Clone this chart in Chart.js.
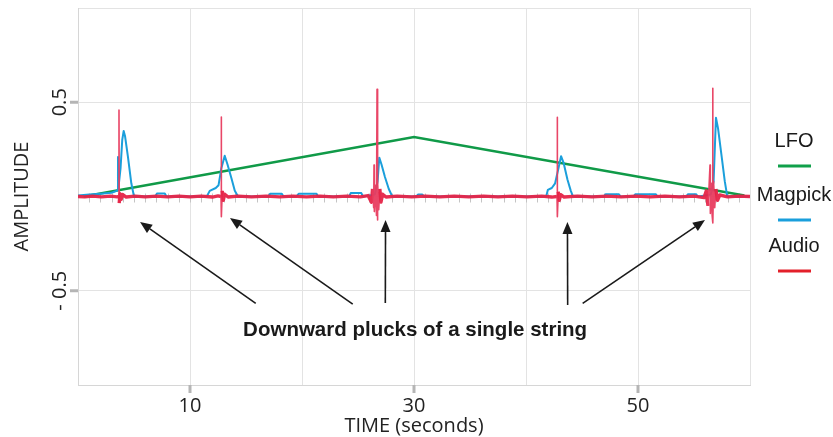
<!DOCTYPE html>
<html>
<head>
<meta charset="utf-8">
<script src="https://cdn.jsdelivr.net/npm/chart.js@4"></script>
<style>
  html, body { margin: 0; padding: 0; background: #fff; }
  #wrap { width: 833px; height: 437px; position: relative; }
</style>
</head>
<body>
<div id="wrap"><canvas id="chart"></canvas></div>
<script>
// Axis ticks
const xTickLabels = [10, 30, 50];
const yTickLabels = [0.5, -0.5];
const yTickText = ['0.5', '- 0.5'];

// LFO (slow triangle)
const lfoTime = [0.5, 30, 59.5];
const lfoAmp = [0.0, 0.316, 0.005];

// Magpick signal
const magTime = [
  0, 1.0, 2.0, 3.0, 3.45, 3.55, 3.57, 3.6, 3.8, 3.95, 4.08, 4.2, 4.46, 4.76, 5.0,
  6.9, 7.05, 7.75, 7.9,
  11.5, 11.76, 12.3, 12.55, 12.8, 13.1, 13.35, 13.7, 14.0, 14.29,
  17.0, 17.15, 18.2, 18.35, 19.5, 19.7, 21.3, 21.45, 24.2, 24.35, 25.3, 25.45,
  26.5, 26.75, 26.9, 27.1, 27.4, 27.75, 28.06,
  30.2, 30.35, 30.75, 30.9,
  41.8, 41.95, 42.3, 42.6, 42.9, 43.13, 43.35, 43.7, 44.0, 44.2,
  46.95, 47.1, 48.3, 48.45, 49.6, 49.75, 51.6, 51.75, 54.3, 54.45, 55.2, 55.35,
  56.5, 56.75, 56.96, 57.15, 57.47, 57.75, 57.97, 60
];
const magAmp = [
  0.005, 0.01, 0.015, 0.02, 0.03, 0.035, 0.21, 0.04, 0.15, 0.3, 0.348, 0.32, 0.21, 0.07, 0.0,
  0.0, 0.016, 0.016, 0.0,
  0.0, 0.03, 0.045, 0.06, 0.15, 0.216, 0.17, 0.097, 0.03, 0.0,
  0.0, 0.014, 0.014, 0.0, 0.0, 0.014, 0.014, 0.0, 0.0, 0.018, 0.018, 0.0,
  0.01, 0.08, 0.206, 0.17, 0.105, 0.04, 0.0,
  0.0, 0.01, 0.01, 0.0,
  0.0, 0.035, 0.045, 0.07, 0.15, 0.214, 0.18, 0.09, 0.03, 0.0,
  0.0, 0.012, 0.012, 0.0, 0.0, 0.012, 0.012, 0.0, 0.0, 0.012, 0.012, 0.0,
  0.01, 0.08, 0.418, 0.36, 0.211, 0.08, 0.0, 0.0
];

// Audio signal
const audioTime = [
  0, 0.6, 1.3, 2.1, 2.9, 3.5, 3.64, 3.66, 3.68, 3.75, 3.85, 4.0, 4.3,
  5.1, 6.0, 7.0, 8.0, 9.0, 10.0, 11.0, 12.0, 12.5,
  12.77, 12.79, 12.81, 12.88, 12.97, 13.1, 13.4,
  14.3, 15.5, 16.8, 18.0, 19.2, 20.4, 21.6, 22.8, 24.0, 25.2, 25.9,
  26.2, 26.3, 26.4, 26.43, 26.46, 26.55, 26.65, 26.7, 26.72, 26.78, 26.85, 26.95, 27.05, 27.2, 27.5,
  28.5, 29.8, 31.0, 32.3, 33.6, 34.9, 36.2, 37.5, 38.8, 40.1, 41.4, 42.3,
  42.77, 42.79, 42.81, 42.88, 42.97, 43.1, 43.4,
  44.6, 45.9, 47.2, 48.5, 49.8, 51.1, 52.4, 53.7, 55.0, 55.9,
  56.1, 56.25, 56.35, 56.43, 56.46, 56.55, 56.62, 56.67, 56.69, 56.75, 56.85, 56.95, 57.1, 57.3,
  58.0, 59.0, 60
];
const audioAmp = [
  0, -0.002, 0.002, -0.002, 0.002, -0.002, 0.0, 0.458, -0.035, 0.015, -0.015, 0.01, -0.003,
  0.002, -0.002, 0.002, -0.002, 0.002, -0.002, 0.002, -0.003, 0.003,
  0.0, 0.422, -0.107, 0.03, -0.02, 0.012, -0.003,
  0.002, -0.002, 0.002, -0.002, 0.002, -0.002, 0.002, -0.002, 0.002, -0.002, 0.005,
  -0.03, 0.04, -0.06, 0.167, -0.08, 0.06, -0.1, 0.569, -0.125, 0.08, -0.07, 0.04, -0.03, 0.012, -0.003,
  0.002, -0.002, 0.002, -0.002, 0.002, -0.002, 0.002, -0.002, 0.002, -0.002, 0.002, -0.003,
  0.0, 0.42, -0.107, 0.025, -0.02, 0.01, -0.003,
  0.002, -0.002, 0.002, -0.002, 0.002, -0.002, 0.002, -0.002, 0.002, -0.006,
  0.03, -0.05, 0.06, 0.167, -0.09, 0.07, -0.1, 0.574, -0.14, 0.08, -0.06, 0.04, -0.02, 0.008,
  -0.002, 0.002, 0
];

// Annotation: arrow tails/heads in data units
const arrowTail = [[15.87, -0.567], [24.53, -0.571], [27.44, -0.565], [43.72, -0.576], [45.06, -0.567]];
const arrowHead = [[5.54, -0.135], [13.57, -0.114], [27.46, -0.125], [43.7, -0.135], [55.98, -0.125]];
const noteText = 'Downward plucks of a single string';
const notePos = [30.1, -0.709];

const zip = (xs, ys) => xs.map((v, i) => ({ x: v, y: ys[i] }));

const AXIS_FONT = "'Open Sans', 'DejaVu Sans', sans-serif";
const LEG_FONT = "'Liberation Sans', Arial, sans-serif";

// thinner, lighter stroke for the tall spike segments
const isSpike = ctx => Math.abs(ctx.p0.parsed.y) > 0.05 || Math.abs(ctx.p1.parsed.y) > 0.05;

const decor = {
  id: 'decor',
  beforeDatasetsDraw(chart) {
    const { ctx, scales: { x, y } } = chart;
    // small ticks along the zero line
    const y0 = y.getPixelForValue(0);
    ctx.save();
    ctx.strokeStyle = '#c4c4c4';
    ctx.lineWidth = 1;
    for (let t = 1; t < 60; t++) {
      const px = Math.round(x.getPixelForValue(t)) + 0.5;
      ctx.beginPath();
      ctx.moveTo(px, y0 - 3);
      ctx.lineTo(px, y0 + 6);
      ctx.stroke();
    }
    ctx.restore();
  },
  afterDatasetsDraw(chart) {
    const { ctx, chartArea: ca, scales: { x, y } } = chart;
    ctx.save();

    // tick marks
    ctx.strokeStyle = '#b5b5b5';
    ctx.lineWidth = 3;
    xTickLabels.forEach(v => {
      const px = x.getPixelForValue(v);
      ctx.beginPath(); ctx.moveTo(px, ca.bottom); ctx.lineTo(px, ca.bottom + 8); ctx.stroke();
    });
    yTickLabels.forEach(v => {
      const py = y.getPixelForValue(v);
      ctx.beginPath(); ctx.moveTo(ca.left - 8, py); ctx.lineTo(ca.left, py); ctx.stroke();
    });

    // tick labels
    ctx.fillStyle = '#222';
    ctx.font = '20px ' + AXIS_FONT;
    ctx.textAlign = 'center';
    ctx.textBaseline = 'alphabetic';
    xTickLabels.forEach(v => ctx.fillText(String(v), x.getPixelForValue(v), ca.bottom + 27));
    yTickLabels.forEach((v, i) => {
      ctx.save();
      ctx.translate(ca.left - 12, y.getPixelForValue(v));
      ctx.rotate(-Math.PI / 2);
      ctx.fillText(yTickText[i], 0, 0);
      ctx.restore();
    });

    // axis titles
    ctx.fillText('TIME (seconds)', (ca.left + ca.right) / 2, ca.bottom + 47);
    ctx.save();
    ctx.translate(28, (ca.top + ca.bottom) / 2);
    ctx.rotate(-Math.PI / 2);
    ctx.fillText('AMPLITUDE', 0, 0);
    ctx.restore();

    // arrows
    ctx.strokeStyle = '#1a1a1a';
    ctx.fillStyle = '#1a1a1a';
    ctx.lineWidth = 1.6;
    arrowTail.forEach((tail, i) => {
      const x1 = x.getPixelForValue(tail[0]), y1 = y.getPixelForValue(tail[1]);
      const x2 = x.getPixelForValue(arrowHead[i][0]), y2 = y.getPixelForValue(arrowHead[i][1]);
      const ang = Math.atan2(y2 - y1, x2 - x1);
      const len = 12, half = 5;
      const bx = x2 - len * Math.cos(ang), by = y2 - len * Math.sin(ang);
      ctx.beginPath(); ctx.moveTo(x1, y1); ctx.lineTo(bx, by); ctx.stroke();
      ctx.beginPath();
      ctx.moveTo(x2, y2);
      ctx.lineTo(bx + half * Math.sin(ang), by - half * Math.cos(ang));
      ctx.lineTo(bx - half * Math.sin(ang), by + half * Math.cos(ang));
      ctx.closePath();
      ctx.fill();
    });

    // annotation
    ctx.fillStyle = '#1a1a1a';
    ctx.font = 'bold 20.5px ' + LEG_FONT;
    ctx.textBaseline = 'middle';
    ctx.fillText(noteText, x.getPixelForValue(notePos[0]), y.getPixelForValue(notePos[1]));

    // legend on the right
    const lx = ca.right + 44;
    ctx.font = '20px ' + LEG_FONT;
    ctx.textBaseline = 'alphabetic';
    chart.data.datasets.forEach((ds, i) => {
      const ty = [147, 201, 252][i];
      ctx.fillStyle = '#1a1a1a';
      ctx.fillText(ds.label, lx, ty);
      ctx.strokeStyle = ds.legendColor;
      ctx.lineWidth = 3;
      ctx.beginPath();
      ctx.moveTo(lx - 16, ty + 19);
      ctx.lineTo(lx + 17, ty + 19);
      ctx.stroke();
    });

    ctx.restore();
  }
};

new Chart(document.getElementById('chart'), {
  type: 'line',
  data: {
    datasets: [
      {
        label: 'LFO',
        data: zip(lfoTime, lfoAmp),
        borderColor: '#109a48',
        legendColor: '#10a04a',
        borderWidth: 2.5,
        pointRadius: 0,
        order: 3
      },
      {
        label: 'Magpick',
        data: zip(magTime, magAmp),
        borderColor: '#1b9fdb',
        legendColor: '#1a9fdc',
        borderWidth: 2,
        pointRadius: 0,
        borderJoinStyle: 'round',
        order: 2
      },
      {
        label: 'Audio',
        data: zip(audioTime, audioAmp),
        borderColor: 'rgba(230,36,72,0.95)',
        legendColor: '#e3202a',
        borderWidth: 3.4,
        pointRadius: 0,
        borderJoinStyle: 'round',
        segment: {
          borderWidth: ctx => isSpike(ctx) ? 1.6 : undefined,
          borderColor: ctx => isSpike(ctx) ? 'rgba(232,60,95,0.95)' : undefined
        },
        order: 1
      }
    ]
  },
  options: {
    responsive: true,
    maintainAspectRatio: false,
    animation: false,
    layout: { padding: { left: 78, right: 83, top: 8, bottom: 52 } },
    plugins: {
      legend: { display: false },
      tooltip: { enabled: false }
    },
    scales: {
      x: {
        type: 'linear',
        min: 0,
        max: 60,
        ticks: { display: false, stepSize: 10 },
        grid: { color: '#e3e3e3', lineWidth: 1, drawTicks: false },
        border: { display: true, color: '#d6d6d6' }
      },
      y: {
        min: -1,
        max: 1,
        ticks: { display: false, stepSize: 0.5 },
        grid: { color: '#e3e3e3', lineWidth: 1, drawTicks: false },
        border: { display: true, color: '#d6d6d6' }
      }
    }
  },
  plugins: [decor]
});
</script>
</body>
</html>
